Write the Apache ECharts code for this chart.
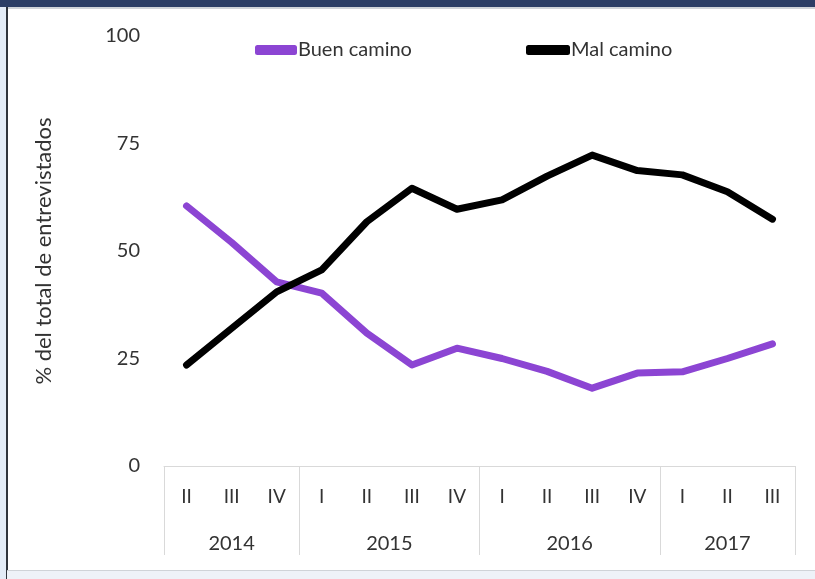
<!DOCTYPE html>
<html>
<head>
<meta charset="utf-8">
<script src="https://cdn.jsdelivr.net/npm/echarts@6/dist/echarts.min.js"></script>
<style>
  html, body { margin: 0; padding: 0; background: #fff; }
  #wrap { position: relative; width: 815px; height: 579px; overflow: hidden; }
  .topband { position: absolute; left: 0; top: 0; width: 815px; height: 7px; background: #2c3e66; }
  .topline { position: absolute; left: 7px; top: 7px; width: 808px; height: 2px; background: #d0d4da; }
  .leftstrip { position: absolute; left: 0; top: 7px; width: 6px; height: 572px; background: #e3ecf7; border-right: 2px solid #2f343c; }
  .bottomstrip { position: absolute; left: 7px; top: 570px; width: 808px; height: 9px; background: #eef2f8; border-top: 1px solid #cfd3d8; }
  #chart { position: absolute; left: 0; top: 0; width: 815px; height: 579px; }
</style>
</head>
<body>
<div id="wrap">
  <div class="topband"></div>
  <div class="topline"></div>
  <div class="leftstrip"></div>
  <div class="bottomstrip"></div>
  <div id="chart"></div>
</div>
<script>
// trimestres (eje principal)
const quarters = ['II', 'III', 'IV', 'I', 'II', 'III', 'IV', 'I', 'II', 'III', 'IV', 'I', 'II', 'III'];
// años y cuántos trimestres abarca cada uno
const years = ['2014', '2015', '2016', '2017'];
const yearSpans = [3, 4, 4, 3];

const buenCamino = [60.5, 52, 42.8, 40.2, 30.9, 23.5, 27.4, 25, 22, 18.1, 21.6, 21.9, 25, 28.4];
const malCamino = [23.5, 32, 40.5, 45.6, 56.8, 64.6, 59.7, 61.9, 67.4, 72.3, 68.7, 67.7, 63.8, 57.4];

const yTicks = { min: 0, max: 100, interval: 25 };

// eje de años: puntos cada medio trimestre, etiqueta al centro de cada año
const halfSteps = quarters.length * 2 + 1;
const yearAxisData = [];
const yearLabelAt = {};
const yearEdgeAt = { 0: true };
let pos = 0;
years.forEach((y, i) => {
  yearLabelAt[pos + yearSpans[i]] = y;
  pos += yearSpans[i] * 2;
  yearEdgeAt[pos] = true;
});
for (let k = 0; k < halfSteps; k++) yearAxisData.push(yearLabelAt[k] || '');

const font = 'Lato, "Liberation Sans", sans-serif';
const textColor = '#333333';
const boxColor = '#d9d9d9';

const legendText = { fontSize: 20, color: textColor, fontFamily: font, padding: [0, 0, 0, -4] };

const chart = echarts.init(document.getElementById('chart'), null, { renderer: 'canvas' });

chart.setOption({
  backgroundColor: 'transparent',
  textStyle: { fontFamily: font },
  grid: { left: 164, right: 20, top: 36, bottom: 113 },
  legend: [
    {
      top: 35, left: 250, itemWidth: 42, itemHeight: 10, icon: 'roundRect',
      textStyle: legendText, data: ['Buen camino']
    },
    {
      top: 35, left: 521, itemWidth: 44, itemHeight: 10, icon: 'roundRect',
      textStyle: legendText, data: ['Mal camino']
    }
  ],
  xAxis: [
    {
      type: 'category',
      data: quarters,
      boundaryGap: true,
      axisLine: { show: true, lineStyle: { color: boxColor, width: 1 } },
      axisTick: { show: false },
      axisLabel: { interval: 0, margin: 21, fontSize: 19, color: textColor, fontFamily: font },
      splitLine: { show: false }
    },
    {
      type: 'category',
      position: 'bottom',
      offset: 89,
      data: yearAxisData,
      boundaryGap: false,
      axisLine: { show: false },
      axisTick: {
        show: true,
        inside: true,
        length: 89,
        interval: (idx) => !!yearEdgeAt[idx],
        lineStyle: { color: boxColor, width: 1 }
      },
      axisLabel: {
        inside: true,
        interval: 0,
        margin: 1,
        fontSize: 20,
        color: textColor,
        fontFamily: font
      },
      splitLine: { show: false }
    }
  ],
  yAxis: {
    type: 'value',
    min: yTicks.min,
    max: yTicks.max,
    interval: yTicks.interval,
    name: '% del total de entrevistados',
    nameLocation: 'middle',
    nameRotate: 90,
    nameGap: 109,
    nameTextStyle: { fontSize: 22, color: textColor, fontFamily: font },
    axisLine: { show: false },
    axisTick: { show: false },
    splitLine: { show: false },
    axisLabel: { margin: 24, fontSize: 20, color: textColor, fontFamily: font }
  },
  series: [
    {
      name: 'Buen camino',
      type: 'line',
      data: buenCamino,
      showSymbol: false,
      symbol: 'none',
      itemStyle: { color: '#8c45d3' },
      lineStyle: { color: '#8c45d3', width: 7, cap: 'round', join: 'round' },
      z: 2
    },
    {
      name: 'Mal camino',
      type: 'line',
      data: malCamino,
      showSymbol: false,
      symbol: 'none',
      itemStyle: { color: '#000000' },
      lineStyle: { color: '#000000', width: 7, cap: 'round', join: 'round' },
      z: 3
    }
  ]
});
</script>
</body>
</html>
